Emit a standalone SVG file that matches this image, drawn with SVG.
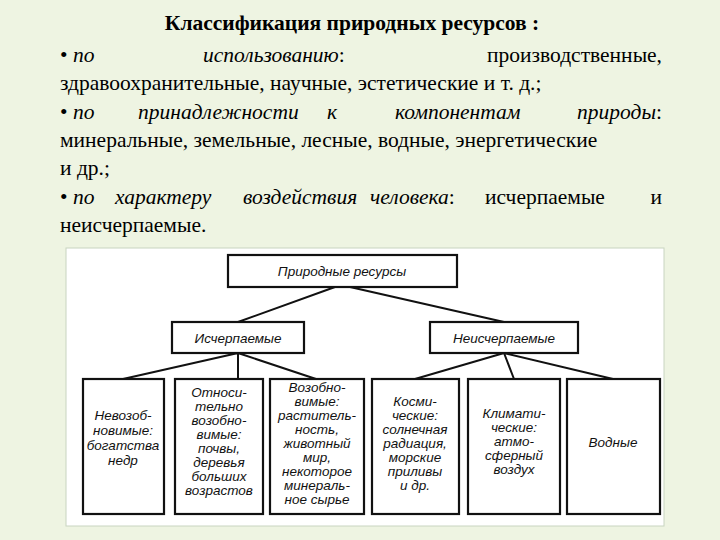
<svg xmlns="http://www.w3.org/2000/svg" width="720" height="540" viewBox="0 0 720 540">
<style>
.t{font-family:"Liberation Serif",serif;font-size:21.5px;fill:#000}
.i{font-style:italic}
.e{text-anchor:end}
.b{fill:#fff;stroke:#111;stroke-width:2.2}
.n{font-family:"Liberation Sans",Arial,sans-serif;font-style:italic;font-size:13.5px;fill:#111;text-anchor:middle}
.c{stroke:#111;stroke-width:2;fill:none}
</style>
<rect width="720" height="540" fill="#eef4e2"/>
<text class="t" x="352" y="30" text-anchor="middle" font-weight="bold">Классификация природных ресурсов :</text>
<text class="t" x="60" y="62">• <tspan class="i">по</tspan></text>
<text class="t i" x="203" y="62">использованию<tspan font-style="normal">:</tspan></text>
<text class="t e" x="662" y="62">производственные,</text>
<text class="t" x="60" y="90">здравоохранительные, научные, эстетические и т. д.;</text>
<text class="t" x="60" y="119">• <tspan class="i">по</tspan></text>
<text class="t i" x="138" y="119">принадлежности</text>
<text class="t i" x="327" y="119">к</text>
<text class="t i" x="395" y="119">компонентам</text>
<text class="t e" x="662" y="119"><tspan class="i">природы</tspan>:</text>
<text class="t" x="60" y="147">минеральные, земельные, лесные, водные, энергетические</text>
<text class="t" x="60" y="175">и др.;</text>
<text class="t" x="60" y="204">• <tspan class="i">по</tspan></text>
<text class="t i" x="115" y="204">характеру</text>
<text class="t i" x="243" y="204">воздействия</text>
<text class="t" x="370" y="204"><tspan class="i">человека</tspan>:</text>
<text class="t" x="485" y="204">исчерпаемые</text>
<text class="t e" x="662" y="204">и</text>
<text class="t" x="60" y="232">неисчерпаемые.</text>
<rect x="66" y="248" width="598" height="278" fill="#fff" stroke="#c8d4c0"/>
<g id="connectors" class="c">
<path d="M335 287 L238 322 M350 287 L504 322"/>
<path d="M238 353 L123 379 M238 353 L238 379 M238 353 L316 379"/>
<path d="M504 353 L415 379 M504 353 L514 379 M504 353 L613 379"/>
</g>
<g id="root"><rect class="b" x="228" y="255" width="229" height="32"/><text class="n" x="342" y="276" font-size="15">Природные ресурсы</text></g>
<g id="exh"><rect class="b" x="172" y="322" width="132" height="31"/><text class="n" x="238" y="343" font-size="15">Исчерпаемые</text></g>
<g id="inexh"><rect class="b" x="430" y="322" width="148" height="31"/><text class="n" x="504" y="343" font-size="15">Неисчерпаемые</text></g>
<g id="b1"><rect class="b" x="83" y="379" width="81" height="135"/><text class="n" x="123"><tspan x="123" y="420">Невозоб-</tspan><tspan x="123" y="435">новимые:</tspan><tspan x="123" y="450">богатства</tspan><tspan x="123" y="465">недр</tspan></text></g>
<g id="b2"><rect class="b" x="175" y="379" width="88" height="135"/><text class="n"><tspan x="219" y="397">Относи-</tspan><tspan x="219" y="411">тельно</tspan><tspan x="219" y="425">возобно-</tspan><tspan x="219" y="439">вимые:</tspan><tspan x="219" y="453">почвы,</tspan><tspan x="219" y="467">деревья</tspan><tspan x="219" y="481">больших</tspan><tspan x="219" y="495">возрастов</tspan></text></g>
<g id="b3"><rect class="b" x="270" y="379" width="94" height="135"/><text class="n"><tspan x="317" y="392">Возобно-</tspan><tspan x="317" y="406">вимые:</tspan><tspan x="317" y="420">раститель-</tspan><tspan x="317" y="434">ность,</tspan><tspan x="317" y="448">животный</tspan><tspan x="317" y="462">мир,</tspan><tspan x="317" y="476">некоторое</tspan><tspan x="317" y="490">минераль-</tspan><tspan x="317" y="504">ное сырье</tspan></text></g>
<g id="b4"><rect class="b" x="372" y="379" width="87" height="135"/><text class="n"><tspan x="415" y="406">Косми-</tspan><tspan x="415" y="420">ческие:</tspan><tspan x="415" y="434">солнечная</tspan><tspan x="415" y="448">радиация,</tspan><tspan x="415" y="462">морские</tspan><tspan x="415" y="476">приливы</tspan><tspan x="415" y="490">и др.</tspan></text></g>
<g id="b5"><rect class="b" x="468" y="379" width="92" height="135"/><text class="n"><tspan x="514" y="418">Климати-</tspan><tspan x="514" y="432">ческие:</tspan><tspan x="514" y="446">атмо-</tspan><tspan x="514" y="460">сферный</tspan><tspan x="514" y="474">воздух</tspan></text></g>
<g id="b6"><rect class="b" x="567" y="379" width="93" height="135"/><text class="n" x="613" y="447">Водные</text></g>
</svg>
